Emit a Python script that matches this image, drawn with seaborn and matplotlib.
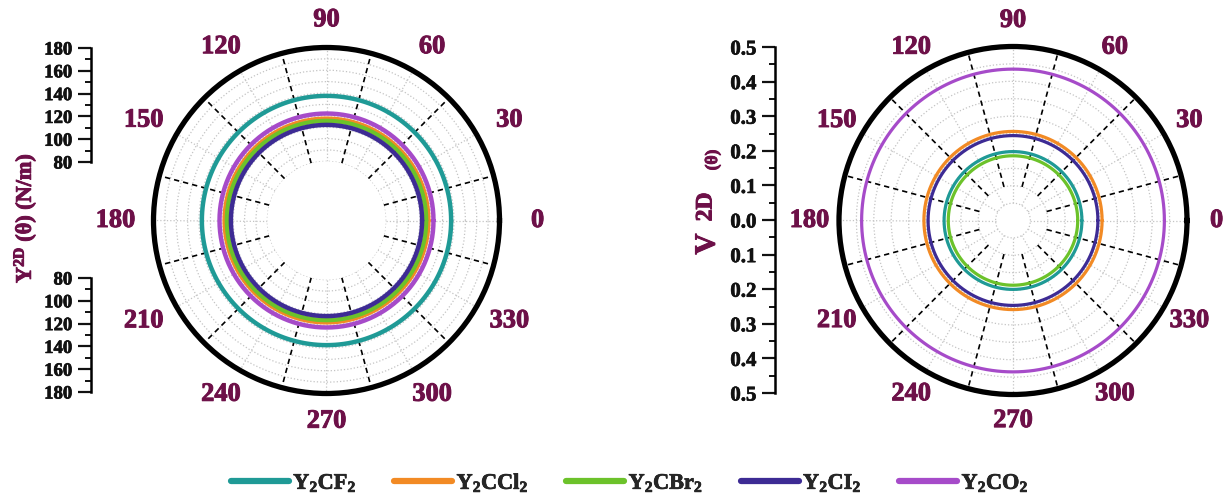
import numpy as np
import pandas as pd
import matplotlib
matplotlib.use("Agg")
import matplotlib.pyplot as plt
import matplotlib.patheffects as pe
from matplotlib.lines import Line2D
import seaborn as sns

# ---- data -------------------------------------------------------------
materials = ["Y$_2$CF$_2$", "Y$_2$CCl$_2$", "Y$_2$CBr$_2$", "Y$_2$CI$_2$", "Y$_2$CO$_2$"]
colors = ["#1f9a96", "#f28a24", "#6cc22a", "#3d2b94", "#a64bc9"]
young_2d = [137.5, 117.5, 115.5, 112.0, 122.0]      # N/m, isotropic in-plane
poisson_2d = [0.198, 0.256, 0.186, 0.244, 0.435]    # isotropic in-plane
left_order = [0, 1, 2, 3, 4]
right_order = [4, 1, 3, 0, 2]
angle_ticks = list(range(0, 360, 30))
young_ticks = [80, 100, 120, 140, 160, 180]
young_minor = [90, 110, 130, 150, 170]
poisson_ticks = [-0.5, -0.4, -0.3, -0.2, -0.1, 0.0, 0.1, 0.2, 0.3, 0.4, 0.5]
poisson_minor = [-0.45, -0.35, -0.25, -0.15, -0.05, 0.05, 0.15, 0.25, 0.35, 0.45]

MAROON = "#6d1048"
GRID = "#c4c4c4"

sns.set_theme(style="white")
plt.rcParams.update({
    "font.family": ["Liberation Serif", "DejaVu Serif"],
    "font.weight": "bold",
    "mathtext.fontset": "custom",
    "mathtext.rm": "Liberation Serif:bold",
    "mathtext.bf": "Liberation Serif:bold",
    "mathtext.it": "Liberation Serif:italic:bold",
    "mathtext.default": "rm",
})


def heavy(color, w=0.7):
    return [pe.withStroke(linewidth=w, foreground=color)]


theta = np.linspace(0, 2 * np.pi, 361)


def frame(values, order):
    rows = []
    for i in order:
        rows.append(pd.DataFrame({"theta": theta,
                                  "value": np.full(theta.size, values[i]),
                                  "material": materials[i]}))
    return pd.concat(rows, ignore_index=True)


fig = plt.figure(figsize=(12.3, 5.01), dpi=100)
W, H = 1230, 501


def polar_box(cx, cy, r):
    return [(cx - r) / W, (H - cy - r) / H, 2 * r / W, 2 * r / H]


axL = fig.add_axes(polar_box(326.5, 220.5, 173), projection="polar")
axR = fig.add_axes(polar_box(1013, 220.5, 174), projection="polar")


def style_polar(ax, rmin, rmax, rgrid, grey_from, dash_from, rx, ry):
    ax.set_rlim(rmin, rmax)
    ax.grid(False)
    ax.set_yticks(rgrid)
    ax.set_yticklabels([])
    ax.yaxis.grid(True, color=GRID, linestyle=":", linewidth=0.9)
    ax.tick_params(axis="y", length=0)
    ax.set_xticks(np.deg2rad(angle_ticks))
    ax.set_xticks(np.deg2rad(np.arange(15, 360, 30)), minor=True)
    ax.set_xticklabels([])
    ax.tick_params(axis="x", which="major", direction="in", length=7, width=3.2, color="black")
    ax.tick_params(axis="x", which="minor", direction="in", length=3.5, width=1.8, color="black")
    for name, sp in ax.spines.items():
        if name == "polar":
            sp.set_linewidth(3.8)
            sp.set_color("black")
        else:
            # the inner edge is re-shown at draw time, so make it invisible by style
            sp.set_linewidth(0)
            sp.set_edgecolor("none")
    for a in angle_ticks:
        t = np.deg2rad(a)
        ax.plot([t, t], [grey_from, rmax], color=GRID, linestyle=":", linewidth=0.9, zorder=1)
    for a in range(15, 360, 30):
        t = np.deg2rad(a)
        ax.plot([t, t], [dash_from, rmax], color="black", linestyle=(0, (3.2, 2.4)),
                linewidth=1.2, zorder=1)
    for a in angle_ticks:
        t = np.deg2rad(a)
        ax.text(0.5 + rx * np.cos(t), 0.5 + ry * np.sin(t), str(a),
                transform=ax.transAxes, ha="center", va="center",
                fontsize=19, fontweight="bold", color=MAROON, path_effects=heavy(MAROON))


style_polar(axL, 80, 180, np.arange(80, 181, 10), 80, 80, 0.61, 0.58)
axL.set_rorigin(28)
style_polar(axR, 0, 0.5, np.arange(0.05, 0.501, 0.05), 0.05, 0.1, 0.585, 0.575)

pal = dict(zip(materials, colors))
dfL = frame(young_2d, left_order)
sns.lineplot(data=dfL, x="theta", y="value", hue="material", palette=pal,
             hue_order=[materials[i] for i in left_order], estimator=None, sort=False,
             linewidth=3.2, legend=False, ax=axL, zorder=3)
dfR = frame(poisson_2d, right_order)
sns.lineplot(data=dfR, x="theta", y="value", hue="material", palette=pal,
             hue_order=[materials[i] for i in right_order], estimator=None, sort=False,
             linewidth=2.3, legend=False, ax=axR, zorder=3)
for ax in (axL, axR):
    ax.set_xlabel("")
    ax.set_ylabel("")


# ---- linear radial scales beside each polar plot ----------------------
def scale_axis(rect, lo, hi, major, minor, fmt, size):
    ax = fig.add_axes(rect)
    ax.set_facecolor("none")
    for s in ("top", "right", "bottom"):
        ax.spines[s].set_visible(False)
    ax.spines["left"].set_linewidth(1.8)
    ax.spines["left"].set_color("black")
    ax.set_xticks([])
    ax.set_ylim(lo, hi)
    ax.set_yticks(major)
    ax.set_yticks(minor, minor=True)
    labels = ax.set_yticklabels([fmt(v) for v in major])
    ax.tick_params(axis="y", which="major", direction="out", length=9.5, width=1.6,
                   labelsize=size, pad=4, colors="#111111", left=True)
    ax.tick_params(axis="y", which="minor", direction="out", length=4.5, width=1.4,
                   colors="#111111", left=True)
    for lab in labels:
        lab.set_fontweight("bold")
        lab.set_path_effects(heavy("#111111", 0.5))
    return ax


sx = 91 / W
scale_axis([sx, (H - 162) / H, 0.001, 114 / H], young_ticks[0], young_ticks[-1],
           young_ticks, young_minor, lambda v: f"{v:.0f}", 13.5)
scale_axis([sx, (H - 392) / H, 0.001, 114 / H], young_ticks[-1], young_ticks[0],
           young_ticks, young_minor, lambda v: f"{v:.0f}", 13.5)
scale_axis([775 / W, (H - 393) / H, 0.001, 346 / H], poisson_ticks[0], poisson_ticks[-1],
           poisson_ticks, poisson_minor, lambda v: f"{abs(v):.1f}", 15)

# axis titles
fig.text(25 / W, (H - 218) / H, "Y$^{2D}$ (θ) (N/m)", rotation=90, ha="center", va="center",
         fontsize=16, fontweight="bold", color=MAROON, path_effects=heavy(MAROON))
fig.text(707 / W, (H - 244) / H, "V", rotation=90, ha="center", va="center",
         fontsize=21, fontweight="bold", color=MAROON, path_effects=heavy(MAROON))
fig.text(706 / W, (H - 207) / H, "2D", rotation=90, ha="center", va="center",
         fontsize=17, fontweight="bold", color=MAROON, path_effects=heavy(MAROON))
fig.text(713 / W, (H - 160) / H, "(θ)", rotation=90, ha="center", va="center",
         fontsize=12.5, fontweight="bold", color=MAROON, path_effects=heavy(MAROON))

# ---- legend -----------------------------------------------------------
handles = [Line2D([], [], color=c, linewidth=4.5, solid_capstyle="round") for c in colors]
leg = fig.legend(handles, materials, loc="center", bbox_to_anchor=(0.512, 0.036), ncol=5,
                 frameon=False, handlelength=2.6, handletextpad=0.2, columnspacing=1.7,
                 prop={"family": "Liberation Serif", "weight": "bold", "size": 16})
for txt in leg.get_texts():
    txt.set_path_effects(heavy("#111111", 0.5))

fig.savefig("out.png", dpi=100, facecolor="white")
